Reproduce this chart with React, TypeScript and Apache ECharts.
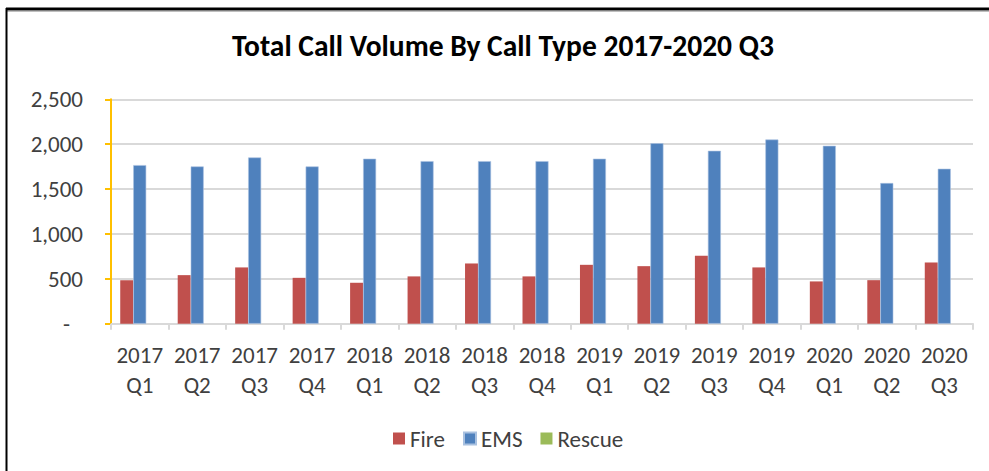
import React, { useEffect, useRef } from "react";
import * as echarts from "echarts";

const categories = [
  "2017 Q1", "2017 Q2", "2017 Q3", "2017 Q4",
  "2018 Q1", "2018 Q2", "2018 Q3", "2018 Q4",
  "2019 Q1", "2019 Q2", "2019 Q3", "2019 Q4",
  "2020 Q1", "2020 Q2", "2020 Q3",
];
const fireValues = [485, 541, 627, 511, 456, 527, 671, 527, 656, 641, 756, 627, 471, 485, 682];
const emsValues = [1767, 1752, 1852, 1752, 1838, 1811, 1811, 1811, 1838, 2011, 1926, 2052, 1982, 1567, 1726];
const rescueValues = [0, 0, 0, 0, 0, 0, 0, 0, 0, 0, 0, 0, 0, 0, 0];
const yTicks = { min: 0, max: 2500, interval: 500 };

const FONT = "Carlito, Lato, 'Open Sans', sans-serif";

export default function App() {
  const ref = useRef<HTMLDivElement>(null);
  useEffect(() => {
    document.body.style.margin = "0";
    if (!ref.current) return;
    const chart = echarts.init(ref.current, undefined, { renderer: "svg" });
    chart.setOption({
      animation: false,
      backgroundColor: "#ffffff",
      title: {
        text: "Total Call Volume By Call Type 2017-2020 Q3",
        left: 232,
        top: 31,
        padding: 0,
        textStyle: { fontFamily: FONT, fontSize: 29.5, fontWeight: "bold", color: "#000000" },
      },
      legend: {
        top: 422,
        left: 388,
        icon: "rect",
        itemWidth: 12,
        itemHeight: 12,
        itemGap: 18,
        textStyle: { fontFamily: FONT, fontSize: 23, color: "#404040" },
        data: ["Fire", "EMS", "Rescue"],
      },
      grid: { left: 111, right: 16, top: 99.3, bottom: 147.3 },
      xAxis: {
        type: "category",
        data: categories,
        axisLine: { lineStyle: { color: "#d9d9d9", width: 2 } },
        axisTick: { show: true, length: 6, lineStyle: { color: "#d9d9d9", width: 2 } },
        axisLabel: {
          fontFamily: FONT,
          fontSize: 23,
          color: "#404040",
          lineHeight: 30,
          margin: 16,
          interval: 0,
          formatter: (v: string) => v.replace(" ", "\n"),
        },
      },
      yAxis: {
        type: "value",
        min: yTicks.min,
        max: yTicks.max,
        interval: yTicks.interval,
        axisLine: { show: true, lineStyle: { color: "#ffc000", width: 2 } },
        axisTick: { show: true, length: 6, lineStyle: { color: "#ffc000", width: 2 } },
        splitLine: { lineStyle: { color: "#d9d9d9", width: 2 } },
        axisLabel: {
          fontFamily: FONT,
          fontSize: 23,
          color: "#404040",
          margin: 28,
          formatter: (v: number) => (v === 0 ? "{d|-}" : v.toLocaleString("en-US")),
          rich: { d: { fontFamily: FONT, fontSize: 23, color: "#404040", padding: [0, 13, 0, 0] } },
        },
      },
      series: [
        {
          name: "Fire",
          type: "bar",
          data: fireValues,
          barWidth: 13,
          barGap: "0%",
          itemStyle: { color: "#c0504d" },
        },
        {
          name: "EMS",
          type: "bar",
          data: emsValues,
          barWidth: 13,
          barGap: "0%",
          itemStyle: { color: "#4f81bd", borderColor: "#a9c1e0", borderWidth: 0.6 },
        },
        {
          name: "Rescue",
          type: "bar",
          data: rescueValues,
          barWidth: 13,
          barGap: "0%",
          itemStyle: { color: "#9bbb59" },
        },
      ],
      graphic: [
        { type: "line", shape: { x1: 6, y1: 9, x2: 989, y2: 9 }, style: { stroke: "#000000", lineWidth: 3 }, z: 100 },
        { type: "line", shape: { x1: 6, y1: 11, x2: 989, y2: 11 }, style: { stroke: "#808080", lineWidth: 1 }, z: 100 },
        { type: "line", shape: { x1: 6.5, y1: 8, x2: 6.5, y2: 471 }, style: { stroke: "#000000", lineWidth: 2 }, z: 100 },
      ],
    });
    return () => chart.dispose();
  }, []);
  return <div ref={ref} style={{ width: 989, height: 471 }} />;
}
